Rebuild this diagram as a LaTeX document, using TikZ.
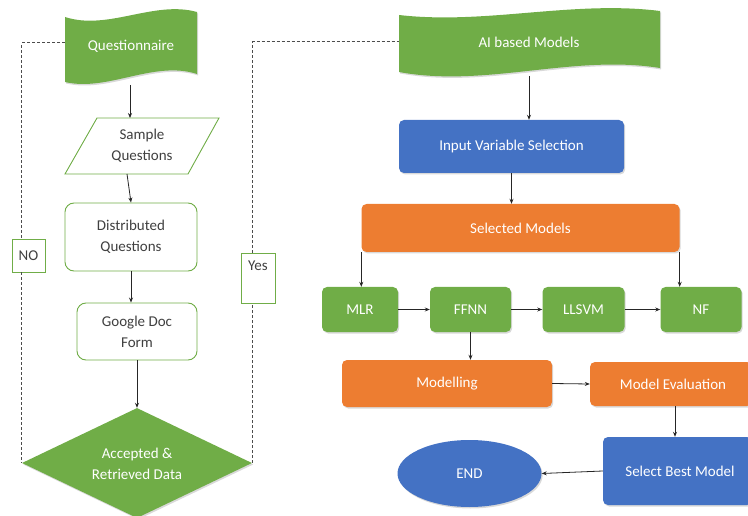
\documentclass[tikz,border=0pt]{standalone}
\usepackage{fontspec}
\setmainfont{Carlito}
\usetikzlibrary{shapes.geometric,arrows.meta,shadows}
\definecolor{gr}{HTML}{70AD47}
\definecolor{bl}{HTML}{4472C4}
\definecolor{orng}{HTML}{ED7D31}
\definecolor{tx}{HTML}{404040}
\begin{document}
\begin{tikzpicture}[x=1pt,y=-1pt, font=\fontsize{15}{21}\selectfont,
 shd/.style={drop shadow={opacity=0.3,shadow xshift=1.2pt,shadow yshift=-1.5pt}},
 wbox/.style={draw=gr, line width=0.9pt, fill=white, rounded corners=9pt, text=tx, align=center, inner sep=0pt},
 fbox/.style={rounded corners=5pt, text=white, align=center, inner sep=0pt, shd},
 arr/.style={-{Stealth[length=5pt,width=4pt]}, line width=0.8pt, black!85},
 dsh/.style={dash pattern=on 3pt off 2pt, line width=1pt, black!70},
 lbl/.style={text=white, align=center}]
\useasboundingbox (0,0) rectangle (748,516);

% Questionnaire flag
\fill[gr, shd] (65,17) .. controls (108,31) and (154,0) .. (197,12) -- (197,74) .. controls (154,60) and (108,92) .. (65,82) -- cycle;
\node[lbl] (q) at (131,46) {Questionnaire};
\coordinate (qw) at (65,43);
\coordinate (qs) at (130,85);

% AI based Models flag
\fill[gr, shd] (399,15) .. controls (486,25) and (573,0) .. (660,11) -- (660,68) .. controls (573,54) and (486,88) .. (399,72) -- cycle;
\node[lbl] (ai) at (529,42) {AI based Models};
\coordinate (aiw) at (399,42);
\coordinate (ais) at (529,76);

% Sample Questions parallelogram
\draw[gr, line width=0.9pt, fill=white] (97,118) -- (219,118) -- (188,174) -- (65,174) -- cycle;
\node[text=tx, align=center] (sq) at (142,146) {Sample\\Questions};
\coordinate (sqn) at (130,118);
\coordinate (sqs) at (127,174);

\node[wbox, minimum width=132pt, minimum height=68pt] (dq) at (131,237) {Distributed\\Questions};
\node[wbox, minimum width=120pt, minimum height=57pt] (gd) at (137,331.5) {Google Doc\\Form};
\node[diamond, fill=gr, minimum width=230pt, minimum height=110pt, inner sep=0pt, lbl, shd] (dia) at (137,463) {};
\node[lbl] (dialbl) at (137,464) {Accepted \&\\Retrieved Data};

\node[draw=gr, line width=0.9pt, fill=white, minimum width=33pt, minimum height=33pt, inner sep=0pt, text=tx] (no) at (28.5,255.5) {NO};
\node[draw=gr, line width=0.9pt, fill=white, minimum width=34pt, minimum height=50pt, inner sep=0pt] (yes) at (258,278) {};
\node[text=tx] (yeslbl) at (258,266) {Yes};

% dashed connectors
\draw[dsh] (qw) -| (dia.west |- no.north);
\draw[dsh] (dia.west |- no.south) -- (dia.west);
\draw[dsh] (dia.east) -- (dia.east |- yes.south);
\draw[dsh] (dia.east |- yes.north) |- (aiw);

% left arrows
\draw[arr] (qs) -- (sqn);
\draw[arr] (sqs) -- (dq.north);
\draw[arr] (dq.south) -- (dq.south |- gd.north);
\draw[arr] (gd.south) -- (dia.north);

% right side
\node[fbox, fill=bl, minimum width=225pt, minimum height=53pt] (ivs) at (511.5,146.5) {Input Variable Selection};
\node[fbox, fill=orng, minimum width=318pt, minimum height=48pt] (sm) at (520.5,228) {Selected Models};
\node[fbox, fill=gr, minimum width=76pt, minimum height=45pt] (mlr) at (360,309.5) {MLR};
\node[fbox, fill=gr, minimum width=81pt, minimum height=45pt] (ffnn) at (470.5,309.5) {FFNN};
\node[fbox, fill=gr, minimum width=82pt, minimum height=45pt] (llsvm) at (583.5,309.5) {LLSVM};
\node[fbox, fill=gr, minimum width=81pt, minimum height=45pt] (nf) at (701,309.5) {NF};
\node[fbox, fill=orng, minimum width=210pt, minimum height=47pt] (mod) at (447,383.5) {Modelling};
\node[fbox, fill=orng, minimum width=162pt, minimum height=44pt] (me) at (671,384) {};
\node[lbl] (melbl) at (673,384) {Model Evaluation};
\node[fbox, fill=bl, minimum width=149pt, minimum height=68pt] (sbm) at (677.5,471) {};
\node[lbl] (sbmlbl) at (680,471) {Select Best Model};
\node[ellipse, fill=bl, minimum width=144pt, minimum height=67pt, inner sep=0pt, lbl, shd] (end) at (469.5,473.5) {END};

\draw[arr] (ais) -- (ais |- ivs.north);
\draw[arr] (ivs.south) -- (ivs.south |- sm.north);
\draw[arr] (sm.south west) -- (sm.south west |- mlr.north);
\draw[arr] (sm.south east) -- (sm.south east |- nf.north);
\draw[arr] (mlr.east) -- (ffnn.west);
\draw[arr] (ffnn.east) -- (llsvm.west);
\draw[arr] (llsvm.east) -- (nf.west);
\draw[arr] (ffnn.south) -- (ffnn.south |- mod.north);
\draw[arr] (mod.east) -- (me.west);
\draw[arr] ([xshift=4pt]me.south) -- ([xshift=4pt]me.south |- sbm.north);
\draw[arr] (sbm.west) -- (end.east);
\end{tikzpicture}
\end{document}
